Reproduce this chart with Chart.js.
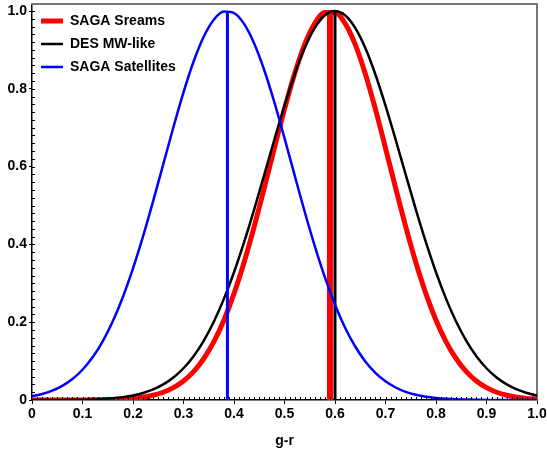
<!DOCTYPE html>
<html>
<head>
<meta charset="utf-8">
<script src="https://cdn.jsdelivr.net/npm/chart.js@4"></script>
<style>
  html, body { margin: 0; padding: 0; background: #fff; }
  #wrap { width: 547px; height: 450px; position: relative; }
</style>
</head>
<body>
<div id="wrap"><canvas id="chart"></canvas></div>
<script>
// g-r grid, step 0.02
const grValues = [0, 0.02, 0.04, 0.06, 0.08, 0.1, 0.12, 0.14, 0.16, 0.18, 0.2, 0.22, 0.24, 0.26, 0.28, 0.3,
  0.32, 0.34, 0.36, 0.38, 0.4, 0.42, 0.44, 0.46, 0.48, 0.5, 0.52, 0.54, 0.56, 0.58, 0.6, 0.62, 0.64, 0.66,
  0.68, 0.7, 0.72, 0.74, 0.76, 0.78, 0.8, 0.82, 0.84, 0.86, 0.88, 0.9, 0.92, 0.94, 0.96, 0.98, 1.0];

const satellitesCurve = [0.0096, 0.0154, 0.0239, 0.0363, 0.0538, 0.0778, 0.1097, 0.1509, 0.2024, 0.2649,
  0.3382, 0.4212, 0.5118, 0.6065, 0.7012, 0.7909, 0.8701, 0.9338, 0.9777, 0.9985, 0.9948, 0.9668, 0.9166,
  0.8477, 0.7649, 0.6731, 0.5779, 0.4840, 0.3954, 0.3151, 0.2450, 0.1858, 0.1375, 0.0992, 0.0699, 0.0480,
  0.0321, 0.0210, 0.0134, 0.0083, 0.0051, 0.0030, 0.0017, 0.0010, 0.0005, 0.0003, 0.0001, 0.0001, 0, 0, 0];

const desCurve = [0, 0.0001, 0.0002, 0.0003, 0.0005, 0.0009, 0.0016, 0.0028, 0.0046, 0.0074, 0.0116,
  0.0179, 0.0271, 0.0400, 0.0578, 0.0816, 0.1127, 0.1522, 0.2011, 0.2599, 0.3283, 0.4057, 0.4902, 0.5794,
  0.6697, 0.7569, 0.8368, 0.9046, 0.9564, 0.9889, 1.0, 0.9889, 0.9564, 0.9046, 0.8368, 0.7569, 0.6697,
  0.5794, 0.4902, 0.4057, 0.3283, 0.2599, 0.2011, 0.1522, 0.1127, 0.0816, 0.0578, 0.0400, 0.0271, 0.0179, 0.0116];

const streamsCurve = [0, 0, 0, 0, 0.0001, 0.0002, 0.0004, 0.0007, 0.0013, 0.0024, 0.0042, 0.0073, 0.0123,
  0.0200, 0.0317, 0.0488, 0.0729, 0.1060, 0.1496, 0.2052, 0.2735, 0.3542, 0.4458, 0.5451, 0.6476, 0.7476,
  0.8386, 0.9141, 0.9682, 0.9964, 0.9964, 0.9682, 0.9141, 0.8386, 0.7476, 0.6476, 0.5451, 0.4458, 0.3542,
  0.2735, 0.2052, 0.1496, 0.1060, 0.0729, 0.0488, 0.0317, 0.0200, 0.0123, 0.0073, 0.0042, 0.0024];

// mean markers
const satellitesMean = 0.387;
const desMean = 0.60;
const streamsMean = 0.59;

const seriesLabels = ["SAGA Sreams", "DES MW-like", "SAGA Satellites"];

const xTickValues = [0, 0.1, 0.2, 0.3, 0.4, 0.5, 0.6, 0.7, 0.8, 0.9, 1.0];
const xTickLabels = ["0", "0.1", "0.2", "0.3", "0.4", "0.5", "0.6", "0.7", "0.8", "0.9", "1.0"];
const yTickValues = [0, 0.2, 0.4, 0.6, 0.8, 1.0];
const yTickLabels = ["0", "0.2", "0.4", "0.6", "0.8", "1.0"];

const toPoints = (ys) => grValues.map((x, i) => ({ x, y: ys[i] }));
const meanLine = (m) => [{ x: m, y: 0 }, { x: m, y: 1 }];

const minorTicks = {
  id: "minorTicks",
  afterDatasetsDraw(chart) {
    const { ctx, chartArea, scales } = chart;
    ctx.save();
    ctx.strokeStyle = "#000";
    ctx.lineWidth = 1;
    ctx.beginPath();
    for (let i = 1; i < 100; i++) {
      const px = Math.round(scales.x.getPixelForValue(i / 100)) + 0.5;
      ctx.moveTo(px, chartArea.bottom);
      ctx.lineTo(px, chartArea.bottom - 3);
    }
    for (let i = 1; i <= 50; i++) {
      const py = Math.round(scales.y.getPixelForValue(i / 50)) + 0.5;
      ctx.moveTo(chartArea.left, py);
      ctx.lineTo(chartArea.left + 3, py);
    }
    ctx.stroke();
    ctx.restore();
  }
};

// nudge the in-plot legend down a little
const legendOffset = {
  id: "legendOffset",
  afterLayout(chart) {
    const lg = chart.legend;
    if (!lg) return;
    lg.top += 5;
    lg.bottom += 5;
  }
};

const tickFont = { family: "Arial, 'Liberation Sans', sans-serif", size: 14, weight: "bold" };

new Chart(document.getElementById("chart"), {
  type: "line",
  data: {
    datasets: [
      { label: seriesLabels[2], data: toPoints(satellitesCurve), borderColor: "#0000ff", borderWidth: 2.5 },
      { label: "satellites mean", data: meanLine(satellitesMean), borderColor: "#0000ff", borderWidth: 3 },
      { label: seriesLabels[1], data: toPoints(desCurve), borderColor: "#000000", borderWidth: 2.5 },
      { label: "des mean", data: meanLine(desMean), borderColor: "#000000", borderWidth: 3 },
      { label: seriesLabels[0], data: toPoints(streamsCurve), borderColor: "#ff0000", borderWidth: 5 },
      { label: "streams mean", data: meanLine(streamsMean), borderColor: "#ff0000", borderWidth: 6 }
    ]
  },
  options: {
    responsive: true,
    maintainAspectRatio: false,
    animation: false,
    layout: { padding: { left: 0, right: 10, top: 4, bottom: 0 } },
    elements: {
      point: { radius: 0 },
      line: { tension: 0.4, cubicInterpolationMode: "monotone", fill: false, borderCapStyle: "butt" }
    },
    plugins: {
      tooltip: { enabled: false },
      legend: {
        position: "chartArea",
        align: "start",
        labels: {
          usePointStyle: true,
          pointStyle: "line",
          pointStyleWidth: 22,
          boxHeight: 14,
          padding: 9,
          color: "#000",
          font: tickFont,
          filter: (item) => item.datasetIndex % 2 === 0,
          sort: (a, b) => b.datasetIndex - a.datasetIndex
        }
      }
    },
    scales: {
      x: {
        type: "linear",
        min: 0,
        max: 1,
        afterBuildTicks: (scale) => { scale.ticks = xTickValues.map((v) => ({ value: v })); },
        afterFit: (scale) => { scale.height = 50; scale.paddingLeft = 0; scale.paddingRight = 0; },
        ticks: {
          color: "#000",
          font: tickFont,
          padding: 2,
          maxRotation: 0,
          callback: (v, i) => xTickLabels[i]
        },
        grid: { drawOnChartArea: false, tickLength: 4, color: "#000" },
        border: { color: "#000", width: 1.5 },
        title: { display: true, text: "g-r", color: "#000", font: tickFont, padding: { top: 8, bottom: 0 } }
      },
      y: {
        type: "linear",
        min: 0,
        max: 1.018,
        afterBuildTicks: (scale) => { scale.ticks = yTickValues.map((v) => ({ value: v })); },
        afterFit: (scale) => { scale.width = 32; scale.paddingTop = 0; scale.paddingBottom = 0; },
        ticks: {
          color: "#000",
          font: tickFont,
          padding: 2,
          callback: (v, i) => yTickLabels[i]
        },
        grid: { drawOnChartArea: false, tickLength: 3, color: "#000" },
        border: { color: "#000", width: 1.5 }
      },
      xTop: {
        type: "linear",
        position: "top",
        min: 0,
        max: 1,
        afterFit: (scale) => { scale.height = 0; },
        ticks: { display: false },
        grid: { drawOnChartArea: false, drawTicks: false },
        border: { color: "#777", width: 2 }
      },
      yRight: {
        type: "linear",
        position: "right",
        min: 0,
        max: 1,
        afterFit: (scale) => { scale.width = 0; },
        ticks: { display: false },
        grid: { drawOnChartArea: false, drawTicks: false },
        border: { color: "#777", width: 2 }
      }
    }
  },
  plugins: [minorTicks, legendOffset]
});
</script>
</body>
</html>
